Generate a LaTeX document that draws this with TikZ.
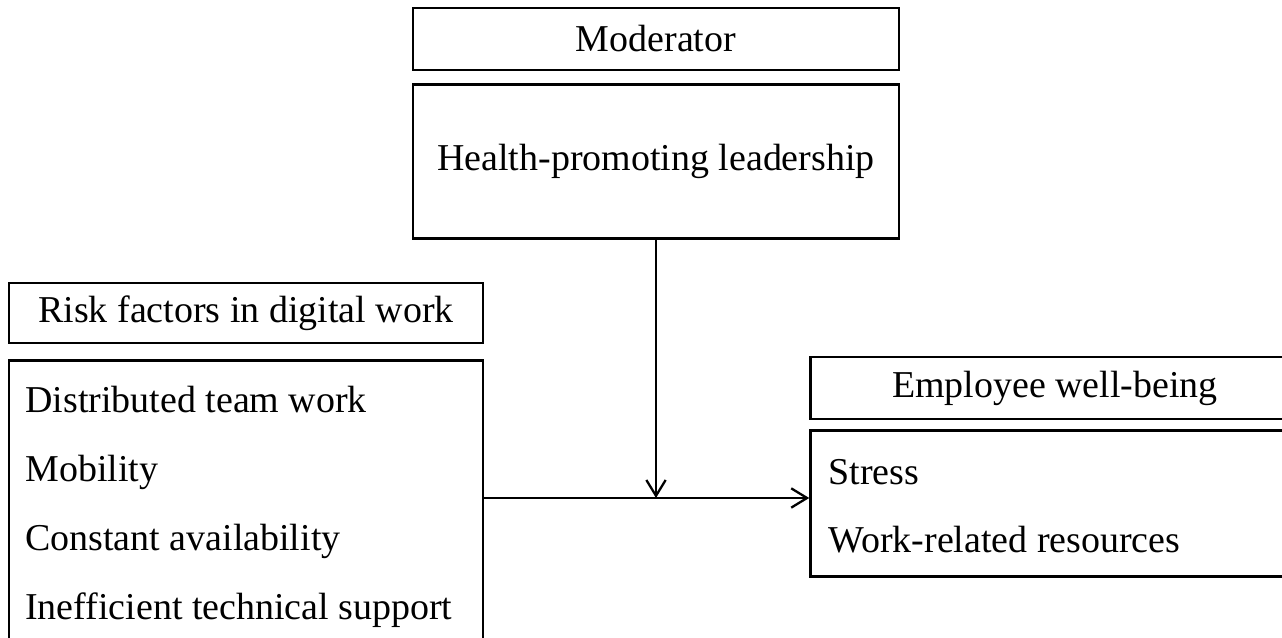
\documentclass[tikz,border=0pt]{standalone}
\usepackage{fontspec}
\setmainfont{Liberation Serif}
\usepackage{tikz}
\usetikzlibrary{arrows.meta,positioning}

\begin{document}
\begin{tikzpicture}[
  x=0.02cm, y=-0.02cm,
  every node/.style={font=\fontsize{21.6}{26}\selectfont},
  headbox/.style={draw, line width=1.5pt, inner sep=0pt},
  bodybox/.style={draw, line width=1.5pt, inner sep=0pt},
  item/.style={anchor=base west, inner sep=0pt},
  arr/.style={-{Straight Barb[length=9pt,width=11pt]}, line width=1.3pt}
]
\useasboundingbox (0,0) rectangle (1282,638);

%% Moderator
\node[headbox, minimum width=9.72cm, minimum height=1.24cm] (mod) at (656,39) {Moderator};
\node[bodybox, minimum width=9.72cm, minimum height=3.08cm, below=0.24cm of mod] (lead)
  {Health-promoting leadership};

%% Risk factors
\node[headbox, minimum width=9.48cm, minimum height=1.2cm] (risk) at (246,313)
  {Risk factors in digital work};
\node[bodybox, minimum width=9.48cm, minimum height=6.04cm, below=0.3cm of risk] (riskbody) {};
\foreach \txt [count=\i from 0] in {Distributed team work, Mobility,
    Constant availability, Inefficient technical support}
  \node[item] (r\i) at (25,413+69*\i) {\txt};

%% Employee well-being
\node[headbox, minimum width=9.78cm, minimum height=1.24cm] (emp) at (1055,388)
  {Employee well-being};
\node[bodybox, minimum width=9.78cm, minimum height=2.92cm, below=0.18cm of emp] (empbody) {};
\node[item] (e0) at (828,485) {Stress};
\node[item] (e1) at (828,553) {Work-related resources};

%% Connectors
\coordinate (join) at (656,498);
\draw[arr] (lead.south) -- (join);
\draw[arr] (riskbody.east |- join) -- (empbody.west |- join);

\end{tikzpicture}
\end{document}
